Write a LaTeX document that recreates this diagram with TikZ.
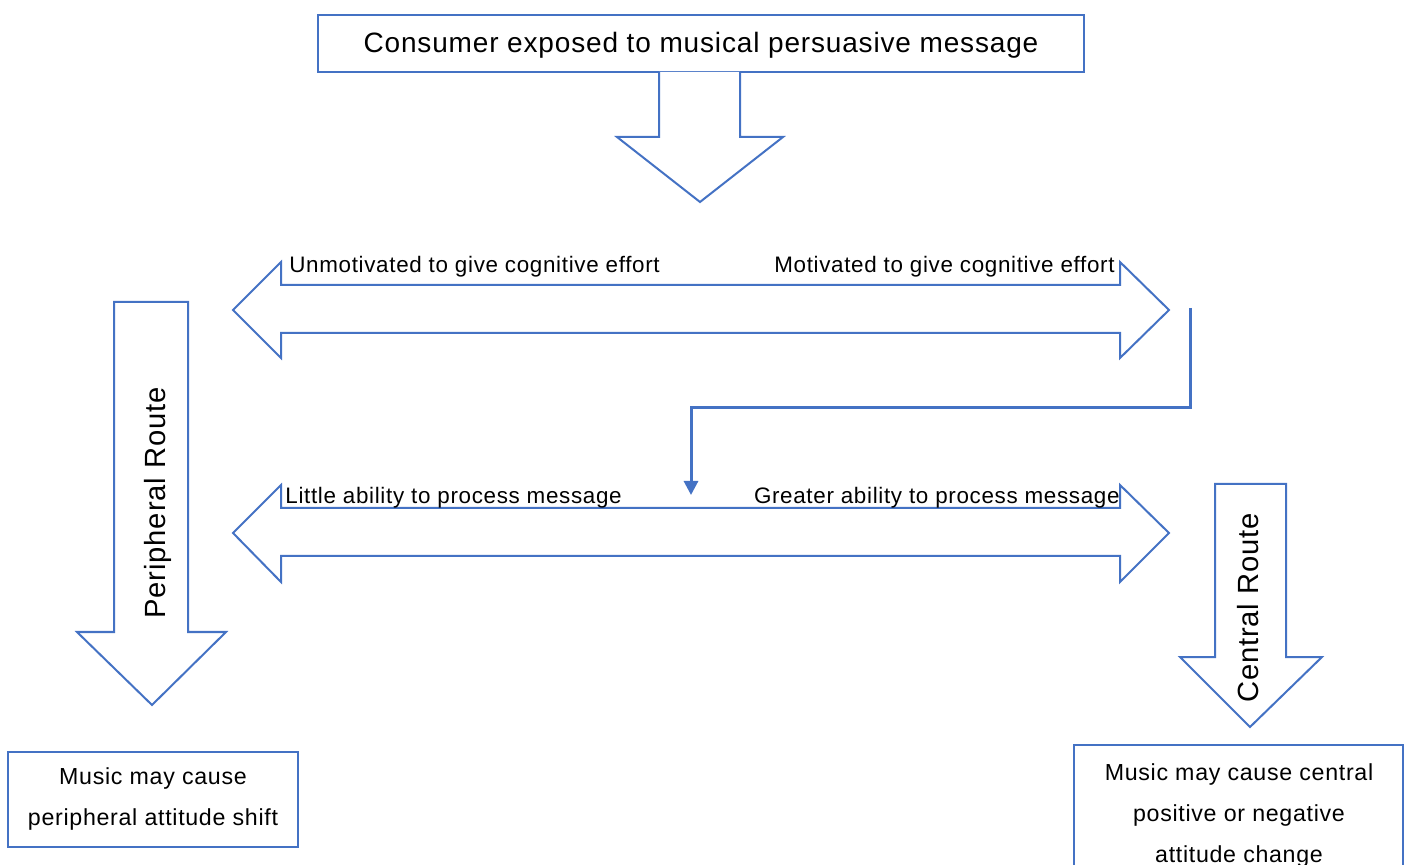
\documentclass[tikz,border=0pt]{standalone}
\usepackage{fontspec}
\setmainfont{Liberation Sans}
\usetikzlibrary{arrows.meta}
\definecolor{accentblue}{HTML}{4472C4}
\newfontfamily\widesans[LetterSpace=3]{Liberation Sans}
\begin{document}
\begin{tikzpicture}[x=0.5pt,y=-0.5pt,
  outline/.style={draw=accentblue, line width=1pt, line join=miter, fill=white},
  boxtext/.style={font=\widesans\fontsize{11.6pt}{20.5pt}\selectfont, align=center, inner sep=0pt},
  arrowlabel/.style={font=\widesans\fontsize{11.2pt}{12pt}\selectfont, inner sep=0pt},
  routelabel/.style={font=\widesans\fontsize{14.6pt}{15pt}\selectfont, rotate=90, inner sep=0pt},
  flow/.style={draw=accentblue, line width=1.5pt, -{Triangle[width=7pt,length=7pt]}}]
\useasboundingbox (0,0) rectangle (1408,865);

% top message box and arrow below it
\draw[outline] (318,15) rectangle (1084,72);
\node[font=\widesans\fontsize{14pt}{15pt}\selectfont, inner sep=0pt] (top) at (701,45) {Consumer exposed to musical persuasive message};
\draw[outline] (659,72) -- (659,137) -- (617,137) -- (700,202) -- (783,137) -- (740,137) -- (740,72);

% motivation double arrow
\draw[outline] (233,310) -- (281,262) -- (281,285) -- (1120,285) -- (1120,262) -- (1169,310)
  -- (1120,358) -- (1120,333) -- (281,333) -- (281,358) -- cycle;
\coordinate (motR) at (1190,308);
\node[arrowlabel, anchor=base west] (unmot) at (289,273) {Unmotivated to give cognitive effort};
\node[arrowlabel, anchor=base east] (mot) at (1115,273) {Motivated to give cognitive effort};

% ability double arrow
\draw[outline] (233,533) -- (281,485) -- (281,508) -- (1120,508) -- (1120,485) -- (1169,533)
  -- (1120,582) -- (1120,556) -- (281,556) -- (281,582) -- cycle;
\coordinate (abilTop) at (691,495);
\node[arrowlabel, anchor=base west] (little) at (285,504) {Little ability to process message};
\node[arrowlabel, anchor=base east] (greater) at (1120,504) {Greater ability to process message};

% elbow connector from motivated side to ability arrow
\draw[flow] (motR) |- (700,408) -| (abilTop);

% peripheral route arrow
\draw[outline] (114,302) -- (188,302) -- (188,632) -- (226,632) -- (152,705) -- (77,632) -- (114,632) -- cycle;
\node[routelabel] (peri) at (158,503) {Peripheral Route};

% central route arrow
\draw[outline] (1215,484) -- (1286,484) -- (1286,657) -- (1322,657) -- (1250,727) -- (1180,657) -- (1215,657) -- cycle;
\node[routelabel] (cent) at (1248,608) {Central Route};

% outcome boxes
\draw[outline] (8,752) rectangle (298,847);
\node[boxtext] (periOut) at (153,799) {Music may cause\\peripheral attitude shift};
\draw[outline] (1074,865) -- (1074,745) -- (1403,745) -- (1403,865);
\node[boxtext, anchor=north] (centOut) at (1239,763) {Music may cause central\\positive or negative\\attitude change};
\end{tikzpicture}
\end{document}
